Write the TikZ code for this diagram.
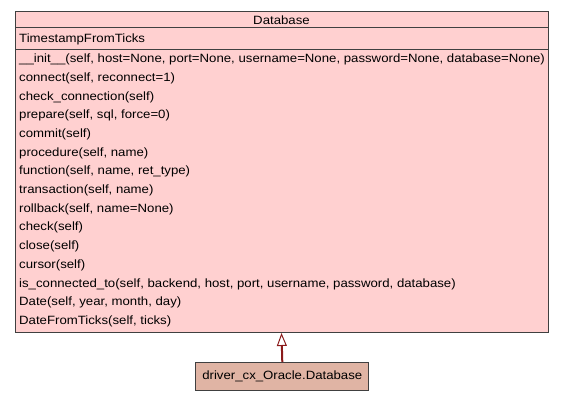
\documentclass[tikz,border=0pt]{standalone}
\usepackage{fontspec}
\setmainfont{Liberation Sans}[FakeStretch=1.1]
\usetikzlibrary{arrows.meta}
\definecolor{classfill}{HTML}{FFD0D0}
\definecolor{subfill}{HTML}{E0B4A4}
\definecolor{edgegray}{HTML}{404040}
\definecolor{inh}{HTML}{8B1A1A}
\tikzset{
  x=1pt, y=-1pt,
  member/.style={anchor=west, inner sep=0pt, font=\fontsize{12}{14}\selectfont},
  boxline/.style={draw=edgegray, line width=1pt},
}
\begin{document}
\begin{tikzpicture}
\useasboundingbox (0,0) rectangle (563,403);
% main class box
\path[fill=classfill, boxline] (15,12) rectangle (548,333);
\draw[boxline] (15,28) -- (548,28);
\draw[boxline] (15,50) -- (548,50);
\node[member, anchor=center] (title) at (281.5,20) {Database};
\node[member] (attr) at (19,39) {TimestampFromTicks};
\foreach \t [count=\i from 0] in {%
  {\_\_init\_\_(self, host=None, port=None, username=None, password=None, database=None)},
  {connect(self, reconnect=1)},
  {check\_connection(self)},
  {prepare(self, sql, force=0)},
  {commit(self)},
  {procedure(self, name)},
  {function(self, name, ret\_type)},
  {transaction(self, name)},
  {rollback(self, name=None)},
  {check(self)},
  {close(self)},
  {cursor(self)},
  {is\_connected\_to(self, backend, host, port, username, password, database)},
  {Date(self, year, month, day)},
  {DateFromTicks(self, ticks)}}
  \node[member] (m\i) at (19,{59.5+18.7*\i}) {\t};
\coordinate (base) at (281.5,333);
% subclass
\node[draw=edgegray, line width=1pt, fill=subfill, minimum width=173pt, minimum height=28pt, inner sep=0pt, font=\fontsize{12}{14}\selectfont] (sub) at (282.3,376.7) {driver\_cx\_Oracle.Database};
\draw[inh, line width=2pt, -{Triangle[open, width=10pt, length=13pt, line width=1pt]}] (sub.north) -- (base);
\end{tikzpicture}
\end{document}
